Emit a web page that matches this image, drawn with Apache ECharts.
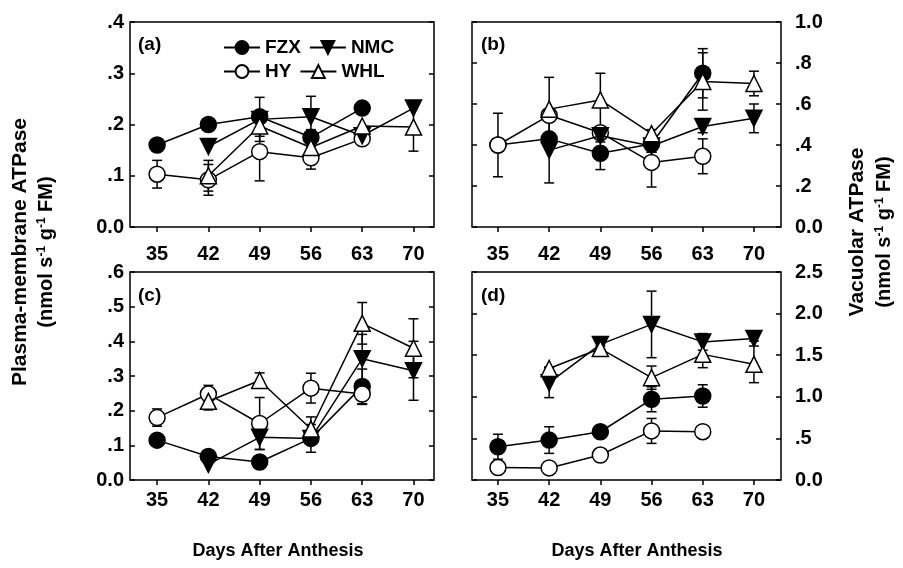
<!DOCTYPE html>
<html><head><meta charset="utf-8">
<script src="https://cdn.jsdelivr.net/npm/echarts@6/dist/echarts.min.js"></script>
<style>html,body{margin:0;padding:0;background:#fff}#c{width:903px;height:568px}</style>
</head><body><div id="c"></div>
<script>
// ---- data ----
const days = [35, 42, 49, 56, 63, 70];
const cultivars = ['FZX', 'HY', 'NMC', 'WHL'];

// panel (a) plasma-membrane ATPase
const A_FZX = [0.160, 0.200, 0.215, 0.175, 0.232, null];
const A_FZX_err = [0, 0, 0.010, 0.015, 0, null];
const A_HY = [0.103, 0.092, 0.147, 0.135, 0.172, null];
const A_HY_err = [0.027, 0.030, 0.057, 0.022, 0.005, null];
const A_NMC = [null, 0.157, 0.210, 0.215, 0.178, 0.232];
const A_NMC_err = [null, 0, 0.043, 0.040, 0, 0];
const A_WHL = [null, 0.100, 0.197, 0.155, 0.197, 0.195];
const A_WHL_err = [null, 0.030, 0.020, 0.010, 0, 0.047];

// panel (b) vacuolar ATPase
const B_FZX = [0.400, 0.430, 0.360, 0.405, 0.750, null];
const B_FZX_err = [0, 0.030, 0.080, 0.040, 0.120, null];
const B_HY = [0.400, 0.545, 0.460, 0.315, 0.345, null];
const B_HY_err = [0.155, 0.030, 0.020, 0.120, 0.085, null];
const B_NMC = [null, 0.375, 0.445, 0.395, 0.490, 0.530];
const B_NMC_err = [null, 0.160, 0.030, 0.030, 0.030, 0.070];
const B_WHL = [null, 0.575, 0.620, 0.455, 0.710, 0.700];
const B_WHL_err = [null, 0.155, 0.130, 0.020, 0.140, 0.060];

// panel (c) plasma-membrane ATPase
const C_FZX = [0.115, 0.068, 0.052, 0.120, 0.270, null];
const C_FZX_err = [0, 0, 0, 0, 0.050, null];
const C_HY = [0.180, 0.248, 0.163, 0.265, 0.248, null];
const C_HY_err = [0.025, 0.025, 0.075, 0.043, 0.030, null];
const C_NMC = [null, 0.045, 0.123, 0.120, 0.350, 0.315];
const C_NMC_err = [null, 0, 0.035, 0.040, 0.070, 0.085];
const C_WHL = [null, 0.227, 0.287, 0.147, 0.452, 0.380];
const C_WHL_err = [null, 0.025, 0.022, 0.035, 0.060, 0.085];

// panel (d) vacuolar ATPase
const D_FZX = [0.40, 0.48, 0.58, 0.97, 1.01, null];
const D_FZX_err = [0.15, 0.16, 0, 0.15, 0.135, null];
const D_HY = [0.15, 0.145, 0.30, 0.59, 0.58, null];
const D_HY_err = [0, 0, 0, 0.15, 0, null];
const D_NMC = [null, 1.17, 1.63, 1.87, 1.66, 1.70];
const D_NMC_err = [null, 0.18, 0.06, 0.40, 0.10, 0.03];
const D_WHL = [null, 1.34, 1.58, 1.23, 1.51, 1.39];
const D_WHL_err = [null, 0.02, 0.03, 0.14, 0.16, 0.22];

// tick labels
const yTicksA = ['0.0', '.1', '.2', '.3', '.4'];
const yTicksB = ['0.0', '.2', '.4', '.6', '.8', '1.0'];
const yTicksC = ['0.0', '.1', '.2', '.3', '.4', '.5', '.6'];
const yTicksD = ['0.0', '.5', '1.0', '1.5', '2.0', '2.5'];
const panelLabels = ['(a)', '(b)', '(c)', '(d)'];
const leftTitle = 'Plasma-membrane ATPase';
const rightTitle = 'Vacuolar ATPase';
const xTitle = 'Days After Anthesis';

// ---- build ----
const FONT = 'Liberation Sans, Arial, sans-serif';
const panels = [
  {vals: [A_FZX, A_HY, A_NMC, A_WHL], errs: [A_FZX_err, A_HY_err, A_NMC_err, A_WHL_err], ticks: yTicksA, step: 0.1, side: 'left',
   grid: {left: 130, top: 22, width: 304, height: 205}, xmin: 31.3, xmax: 72.8, lblMargin: 17},
  {vals: [B_FZX, B_HY, B_NMC, B_WHL], errs: [B_FZX_err, B_HY_err, B_NMC_err, B_WHL_err], ticks: yTicksB, step: 0.2, side: 'right',
   grid: {left: 472, top: 22, width: 309, height: 205}, xmin: 31.45, xmax: 73.7, lblMargin: 17},
  {vals: [C_FZX, C_HY, C_NMC, C_WHL], errs: [C_FZX_err, C_HY_err, C_NMC_err, C_WHL_err], ticks: yTicksC, step: 0.1, side: 'left',
   grid: {left: 130, top: 272, width: 304, height: 208}, xmin: 31.3, xmax: 72.8, lblMargin: 10},
  {vals: [D_FZX, D_HY, D_NMC, D_WHL], errs: [D_FZX_err, D_HY_err, D_NMC_err, D_WHL_err], ticks: yTicksD, step: 0.5, side: 'right',
   grid: {left: 472, top: 272, width: 309, height: 208}, xmin: 31.45, xmax: 73.7, lblMargin: 10}
];

const styles = {
  FZX: {symbol: 'circle', rot: 0, fill: '#000', size: 16},
  HY: {symbol: 'circle', rot: 0, fill: '#fff', size: 16},
  NMC: {symbol: 'triangle', rot: 180, fill: '#000', size: 16},
  WHL: {symbol: 'triangle', rot: 0, fill: '#fff', size: 16}
};

const grids = [], xAxes = [], yAxes = [], series = [];
panels.forEach((p, i) => {
  grids.push(Object.assign({show: true, borderColor: '#000', borderWidth: 1.5, backgroundColor: 'transparent'}, p.grid));
  xAxes.push({
    type: 'value', gridIndex: i, min: p.xmin, max: p.xmax,
    axisLine: {show: false}, splitLine: {show: false},
    axisTick: {show: true, inside: false, length: 5, lineStyle: {color: '#000', width: 1.5}, customValues: days},
    axisLabel: {show: true, customValues: days, margin: p.lblMargin, color: '#000', fontSize: 20, fontWeight: 'bold', fontFamily: FONT}
  });
  const ymax = p.step * (p.ticks.length - 1);
  const fmt = v => p.ticks[Math.round(v / p.step)];
  const mainY = {
    type: 'value', gridIndex: i, min: 0, max: ymax, interval: p.step, position: p.side,
    axisLine: {show: false}, splitLine: {show: false},
    axisTick: {show: true, inside: true, length: 5, lineStyle: {color: '#000', width: 1.5}},
    axisLabel: {show: true, formatter: fmt, margin: p.side === 'left' ? 6 : 14, color: '#000', fontSize: 20, fontWeight: 'bold', fontFamily: FONT}
  };
  const otherY = {
    type: 'value', gridIndex: i, min: 0, max: ymax, interval: p.step, position: p.side === 'left' ? 'right' : 'left',
    axisLine: {show: false}, splitLine: {show: false},
    axisTick: {show: true, inside: true, length: 5, lineStyle: {color: '#000', width: 1.5}},
    axisLabel: {show: false}
  };
  yAxes.push(mainY, otherY);

  cultivars.forEach((name, k) => {
    const vals = p.vals[k], errs = p.errs[k], st = styles[name];
    const data = [], ebars = [];
    days.forEach((d, j) => {
      if (vals[j] == null) return;
      data.push([d, vals[j]]);
      if (errs[j]) ebars.push([d, vals[j] - errs[j], vals[j] + errs[j]]);
    });
    series.push({
      type: 'custom', xAxisIndex: i, yAxisIndex: 2 * i, data: ebars, silent: true, z: 1,
      renderItem: (params, api) => {
        const x = api.value(0);
        const a = api.coord([x, api.value(1)]), b = api.coord([x, api.value(2)]);
        const ls = {stroke: '#000', lineWidth: 1.5};
        return {type: 'group', children: [
          {type: 'line', shape: {x1: a[0], y1: a[1], x2: b[0], y2: b[1]}, style: ls},
          {type: 'line', shape: {x1: a[0] - 5, y1: a[1], x2: a[0] + 5, y2: a[1]}, style: ls},
          {type: 'line', shape: {x1: b[0] - 5, y1: b[1], x2: b[0] + 5, y2: b[1]}, style: ls}
        ]};
      }
    });
    series.push({
      name: name, type: 'line', xAxisIndex: i, yAxisIndex: 2 * i, data: data, z: 3 + k,
      symbol: st.symbol, symbolSize: st.size, symbolRotate: st.rot, showAllSymbol: true,
      lineStyle: {color: '#000', width: 1.5},
      itemStyle: {color: st.fill, borderColor: '#000', borderWidth: 1.5},
      emphasis: {disabled: true}, animation: false
    });
  });
});

const legendText = {color: '#000', fontSize: 19, fontWeight: 'bold', fontFamily: FONT, width: 44};
const legendBase = {orient: 'horizontal', itemWidth: 36, itemHeight: 16, itemGap: 8, textStyle: legendText, selectedMode: false, symbolRotate: 'inherit'};

const supRich = {
  a: {fontSize: 20, fontWeight: 'bold', fontFamily: FONT, fill: '#000'},
  s: {fontSize: 12, fontWeight: 'bold', fontFamily: FONT, fill: '#000', verticalAlign: 'top', padding: [0, 0, 9, 0]}
};
const unitText = '{a|(nmol s}{s|-1}{a| g}{s|-1}{a| FM)}';

function vtext(x, y, text, size, rich) {
  return {type: 'text', x: x, y: y, rotation: Math.PI / 2,
    style: Object.assign({text: text, align: 'center', verticalAlign: 'middle', fill: '#000',
      font: 'bold ' + size + 'px ' + FONT}, rich ? {rich: rich} : {})};
}

const graphics = [
  vtext(20, 252, leftTitle, 21),
  vtext(46, 252, unitText, 20, supRich),
  vtext(857, 232, rightTitle, 21),
  vtext(884, 232, unitText, 20, supRich),
  {type: 'text', x: 278, y: 551, style: {text: xTitle, align: 'center', verticalAlign: 'middle', fill: '#000', font: 'bold 18px ' + FONT}},
  {type: 'text', x: 637, y: 551, style: {text: xTitle, align: 'center', verticalAlign: 'middle', fill: '#000', font: 'bold 18px ' + FONT}},
  {type: 'text', x: 138, y: 45, style: {text: panelLabels[0], verticalAlign: 'middle', fill: '#000', font: 'bold 19px ' + FONT}},
  {type: 'text', x: 481, y: 45, style: {text: panelLabels[1], verticalAlign: 'middle', fill: '#000', font: 'bold 19px ' + FONT}},
  {type: 'text', x: 138, y: 296, style: {text: panelLabels[2], verticalAlign: 'middle', fill: '#000', font: 'bold 19px ' + FONT}},
  {type: 'text', x: 481, y: 296, style: {text: panelLabels[3], verticalAlign: 'middle', fill: '#000', font: 'bold 19px ' + FONT}}
];

const chart = echarts.init(document.getElementById('c'), null, {renderer: 'canvas'});
chart.setOption({
  animation: false,
  backgroundColor: '#fff',
  grid: grids, xAxis: xAxes, yAxis: yAxes, series: series,
  legend: [
    Object.assign({left: 218, top: 33, data: ['FZX', 'NMC']}, legendBase),
    Object.assign({left: 218, top: 57, data: ['HY', 'WHL']}, legendBase)
  ],
  graphic: graphics
});
</script></body></html>
